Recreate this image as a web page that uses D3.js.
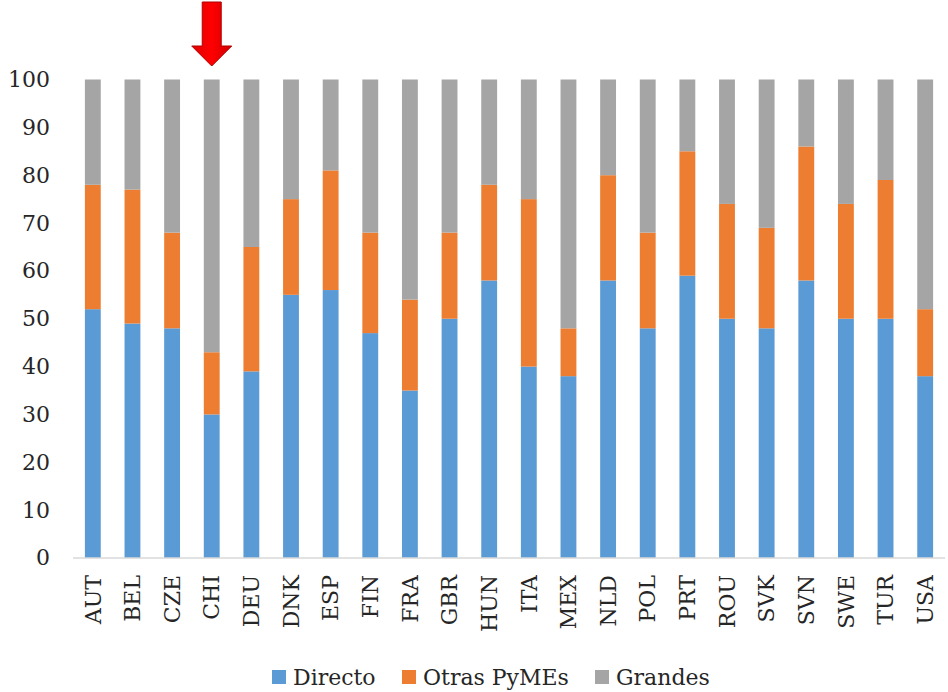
<!DOCTYPE html>
<html>
<head>
<meta charset="utf-8">
<script src="https://cdn.jsdelivr.net/npm/d3@7"></script>
<style>
  body { margin: 0; background: #fff; }
</style>
</head>
<body>
<svg id="chart"></svg>
<script>
var width = 948;
var height = 692;
var fontFamily = "'DejaVu Serif', serif";

var countries = ["AUT","BEL","CZE","CHI","DEU","DNK","ESP","FIN","FRA","GBR","HUN",
                 "ITA","MEX","NLD","POL","PRT","ROU","SVK","SVN","SWE","TUR","USA"];
var directo = [52,49,48,30,39,55,56,47,35,50,58,40,38,58,48,59,50,48,58,50,50,38];
var otras   = [26,28,20,13,26,20,25,21,19,18,20,35,10,22,20,26,24,21,28,24,29,14];
var grandes = [22,23,32,57,35,25,19,32,46,32,22,25,52,20,32,15,26,31,14,26,21,48];
var yTicks = [0,10,20,30,40,50,60,70,80,90,100];

var seriesNames = ["Directo", "Otras PyMEs", "Grandes"];
var colors = ["#5B9BD5", "#ED7D31", "#A5A5A5"];

var rows = countries.map((c, i) => ({
    country: c, "Directo": directo[i], "Otras PyMEs": otras[i], "Grandes": grandes[i]
}));
var stacked = d3.stack().keys(seriesNames)(rows);

var xScale = d3.scaleBand()
    .domain(countries)
    .range([73, 945])
    .paddingInner(0.6)
    .paddingOuter(0.3);

var yScale = d3.scaleLinear()
    .domain([0, 100])
    .range([558, 79.5]);

var svg = d3.select("#chart")
    .attr("width", width)
    .attr("height", height)
    .attr("font-family", fontFamily);

// bars
svg.selectAll("g.series")
    .data(stacked)
    .enter()
    .append("g")
    .attr("class", "series")
    .attr("fill", (d, i) => colors[i])
    .selectAll("rect")
    .data(d => d)
    .enter()
    .append("rect")
    .attr("x", d => xScale(d.data.country))
    .attr("y", d => yScale(d[1]))
    .attr("height", d => yScale(d[0]) - yScale(d[1]))
    .attr("width", xScale.bandwidth());

// x axis line
svg.append("line")
    .attr("x1", xScale.range()[0])
    .attr("x2", xScale.range()[1])
    .attr("y1", yScale(0))
    .attr("y2", yScale(0))
    .attr("stroke", "#D9D9D9")
    .attr("stroke-width", 1.5);

// y tick labels
svg.selectAll("text.ytick")
    .data(yTicks)
    .enter()
    .append("text")
    .attr("class", "ytick")
    .attr("x", 50)
    .attr("y", d => yScale(d))
    .attr("dy", "0.34em")
    .attr("text-anchor", "end")
    .attr("font-size", 22)
    .attr("fill", "#262626")
    .text(d => d);

// x labels
svg.selectAll("text.xlab")
    .data(countries)
    .enter()
    .append("text")
    .attr("class", "xlab")
    .attr("transform", d => `translate(${xScale(d) + xScale.bandwidth() / 2},575) rotate(-90)`)
    .attr("dy", "0.35em")
    .attr("text-anchor", "end")
    .attr("font-size", 22)
    .attr("fill", "#262626")
    .text(d => d);

// legend
var legendX = [272, 402, 595];
var legend = svg.selectAll("g.legend")
    .data(seriesNames)
    .enter()
    .append("g")
    .attr("class", "legend")
    .attr("transform", (d, i) => `translate(${legendX[i]},670)`);
legend.append("rect")
    .attr("width", 14)
    .attr("height", 14)
    .attr("fill", (d, i) => colors[i]);
legend.append("text")
    .attr("x", 21)
    .attr("y", 15)
    .attr("font-size", 22)
    .attr("fill", "#262626")
    .text(d => d);

// red arrow over CHI
var defs = svg.append("defs");
var grad = defs.append("linearGradient")
    .attr("id", "arrowGrad")
    .attr("x1", 0).attr("x2", 1).attr("y1", 0).attr("y2", 0);
grad.append("stop").attr("offset", "0%").attr("stop-color", "#E00000");
grad.append("stop").attr("offset", "50%").attr("stop-color", "#FF0000");
grad.append("stop").attr("offset", "100%").attr("stop-color", "#D00000");

var ax = xScale("CHI") + xScale.bandwidth() / 2;
var arrow = d3.path();
arrow.moveTo(ax - 9.5, 2);
arrow.lineTo(ax + 9.5, 2);
arrow.lineTo(ax + 9.5, 46);
arrow.lineTo(ax + 20, 46);
arrow.lineTo(ax, 66);
arrow.lineTo(ax - 20, 46);
arrow.lineTo(ax - 9.5, 46);
arrow.closePath();
svg.append("path")
    .attr("d", arrow.toString())
    .attr("fill", "url(#arrowGrad)")
    .attr("stroke", "#B00000")
    .attr("stroke-width", 1);
</script>
</body>
</html>
